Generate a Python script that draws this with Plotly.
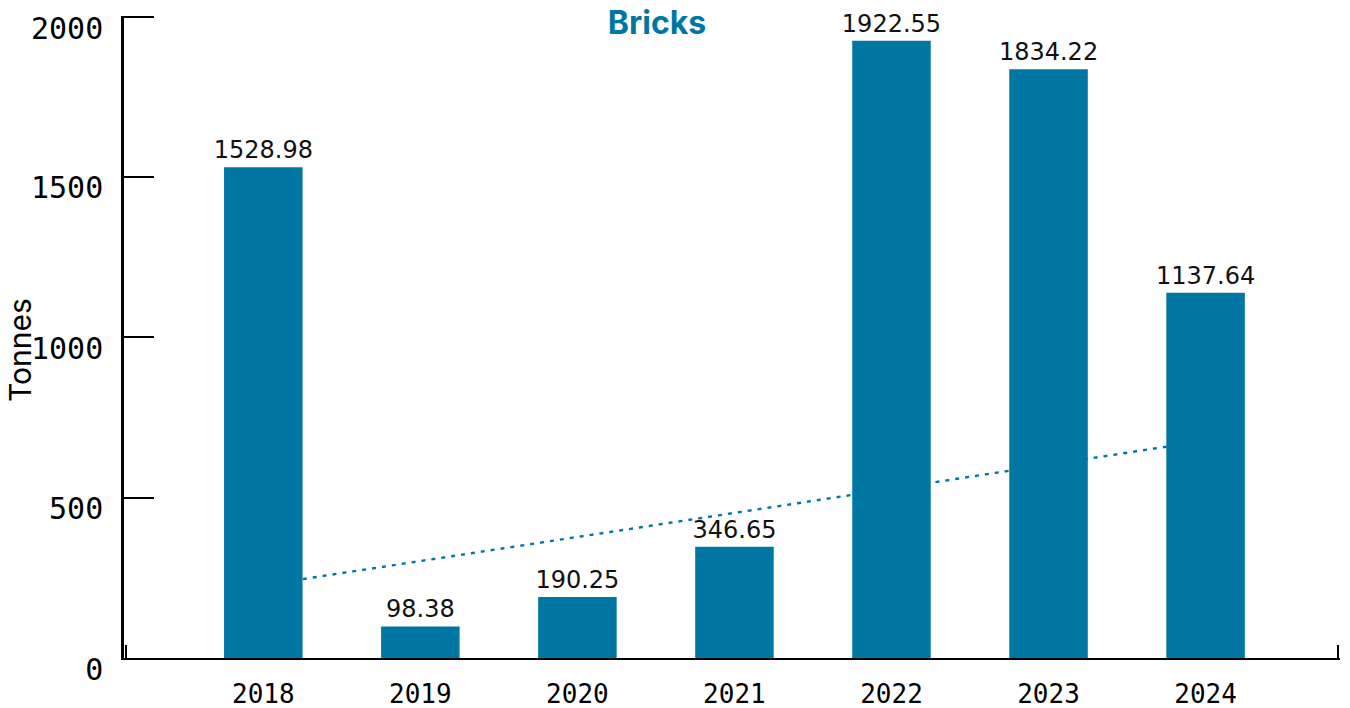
import plotly.graph_objects as go

# Annual brick tonnage
years = [2018, 2019, 2020, 2021, 2022, 2023, 2024]
tonnes = [1528.98, 98.38, 190.25, 346.65, 1922.55, 1834.22, 1137.64]

# Trend line end points (tonnes)
trend_years = [2018, 2024]
trend_values = [227, 677]

y_ticks = [0, 500, 1000, 1500, 2000]

TEAL = "#0077A3"
x_range = [2017.113, 2024.856]
y_range = [0, 2000]

fig = go.Figure()

# Dotted trend sits on the base axes so the bars cover it
fig.add_trace(go.Scatter(
    x=trend_years, y=trend_values, mode="lines",
    line=dict(color=TEAL, width=2.4, dash="4px,6px"),
    hoverinfo="skip", showlegend=False,
    xaxis="x", yaxis="y",
))

fig.add_trace(go.Bar(
    x=years, y=tonnes, width=0.5,
    marker=dict(color=TEAL, line=dict(width=0)),
    text=[f"{v:.2f}" for v in tonnes],
    textposition="outside", constraintext="none",
    textfont=dict(family="DejaVu Sans", size=24, color="#111111"),
    cliponaxis=False, showlegend=False,
    xaxis="x2", yaxis="y2",
))

# Inside ticks sitting exactly on the plot edge get dropped, so nudge the
# end ticks a hair inward
x_eps = 0.01
y_eps = 4
x_tickvals = years + [x_range[0] + x_eps, x_range[1] - x_eps]
x_ticktext = [str(y) for y in years] + ["", ""]
y_tickvals = [v if v < y_range[1] else v - y_eps for v in y_ticks]
y_ticktext = [str(v) for v in y_ticks]

fig.update_layout(
    width=1350, height=708,
    margin=dict(l=124, r=10, t=16, b=50),
    paper_bgcolor="white", plot_bgcolor="white",
    title=dict(
        text="Bricks", x=(657 - 124) / 1216, xref="paper", xanchor="center",
        y=1 - 23 / 708, yref="container", yanchor="middle",
        font=dict(family="Inter", size=32, weight=700, color=TEAL),
    ),
    xaxis=dict(
        range=x_range, tickvals=x_tickvals, ticktext=x_ticktext,
        ticks="inside", ticklen=13, tickwidth=2, tickcolor="black",
        showline=True, linewidth=2, linecolor="black",
        showgrid=False, zeroline=False, layer="below traces",
        tickfont=dict(family="DejaVu Sans Mono", size=26, color="black"),
        ticklabelstandoff=12, automargin=False,
    ),
    yaxis=dict(
        range=y_range, tickvals=y_tickvals, ticktext=y_ticktext,
        ticks="inside", ticklen=30, tickwidth=2, tickcolor="black",
        showline=True, linewidth=2.5, linecolor="black",
        showgrid=False, zeroline=False, layer="below traces",
        tickfont=dict(family="DejaVu Sans Mono", size=30, color="black"),
        ticklabelstandoff=12, ticklabelshift=11, automargin=False,
    ),
    xaxis2=dict(range=x_range, overlaying="x", visible=False),
    yaxis2=dict(range=y_range, overlaying="y", visible=False),
    bargap=0.5,
    annotations=[dict(
        text="Tonnes", textangle=-90, xref="paper", yref="paper",
        x=(20 - 124) / 1216, y=(658 - 350) / 642,
        xanchor="center", yanchor="middle", showarrow=False,
        font=dict(family="Inter", size=30, color="black"),
    )],
)

fig.write_html("out.html")
